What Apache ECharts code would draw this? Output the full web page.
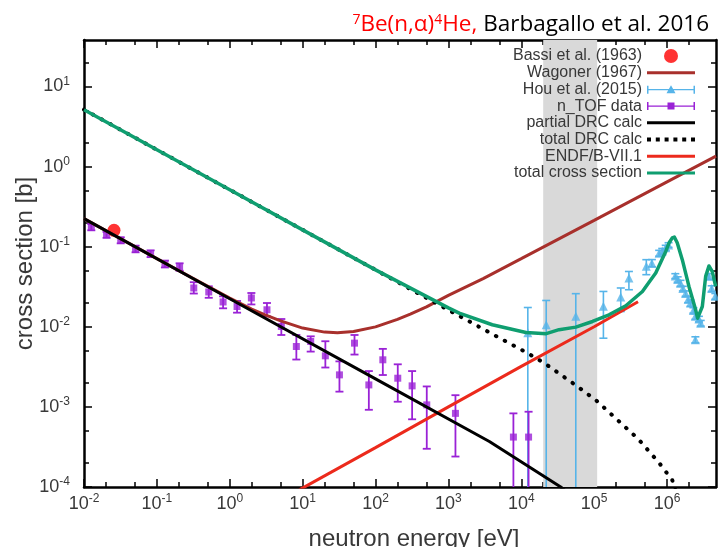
<!DOCTYPE html>
<html><head><meta charset="utf-8">
<script src="https://cdn.jsdelivr.net/npm/echarts@6/dist/echarts.min.js"></script>
<style>html,body{margin:0;padding:0;background:#fff}#c{width:718px;height:547px}</style>
</head><body><div id="c"></div>
<script>
// ---------- tick values ----------
const xMajorTicks = [1e-2, 1e-1, 1, 10, 100, 1e3, 1e4, 1e5, 1e6];
const xMinorTicks = [0.02, 0.05, 0.2, 0.5, 2, 5, 20, 50, 200, 500, 2e3, 5e3, 2e4, 5e4, 2e5, 5e5, 2e6];
const yMajorTicks = [1e-4, 1e-3, 1e-2, 1e-1, 1, 10];
const yMinorTicks = [2e-4, 5e-4, 2e-3, 5e-3, 2e-2, 5e-2, 0.2, 0.5, 2, 5, 20];
const xRange = [0.01, 4.7e6];
const yRange = [1e-4, 38];

// ---------- data ----------
const bandRange = [2e4, 1.1e5];

const bassiE = [0.0258];
const bassiS = [0.16];

const ntofE  = [0.0126, 0.0204, 0.0319, 0.051, 0.082, 0.129, 0.205, 0.321, 0.515, 0.81, 1.26, 1.98, 3.24, 5.1, 8.2, 12.9, 20.5, 32, 51.5, 81, 126, 202, 318, 505, 1250, 7800, 12600];
const ntofS  = [0.176, 0.141, 0.120, 0.0936, 0.0818, 0.0608, 0.0557, 0.0305, 0.0272, 0.0204, 0.0179, 0.0229, 0.0163, 0.0101, 0.00567, 0.00655, 0.00434, 0.00251, 0.00625, 0.00188, 0.00387, 0.00228, 0.00183, 0.00106, 0.00083, 0.00042, 0.00042];
const ntofLo = [0.160, 0.129, 0.110, 0.085, 0.074, 0.055, 0.050, 0.026, 0.023, 0.017, 0.015, 0.019, 0.0135, 0.0079, 0.0039, 0.0049, 0.0031, 0.00155, 0.0045, 0.00092, 0.0025, 0.00116, 0.0007, 0.0003, 0.00024, 0.00001, 0.00001];
const ntofHi = [0.192, 0.153, 0.131, 0.103, 0.090, 0.067, 0.062, 0.036, 0.032, 0.024, 0.021, 0.0264, 0.0198, 0.0125, 0.0079, 0.0076, 0.0066, 0.0037, 0.0079, 0.0028, 0.0053, 0.0034, 0.0028, 0.0018, 0.0014, 0.00083, 0.00087];

const houE  = [1.23e4, 2.2e4, 5.6e4, 1.34e5, 2.32e5, 3.0e5, 5.2e5, 6.2e5, 7.8e5, 8.6e5, 9.6e5, 1.05e6, 1.3e6, 1.4e6, 1.53e6, 1.65e6, 1.8e6, 1.95e6, 2.1e6, 2.3e6, 2.45e6, 2.45e6, 2.74e6, 2.9e6, 3.76e6, 4.1e6, 4.6e6];
const houS  = [0.0084, 0.0106, 0.0135, 0.018, 0.0235, 0.0406, 0.0568, 0.062, 0.083, 0.088, 0.097, 0.105, 0.043, 0.039, 0.035, 0.030, 0.026, 0.022, 0.0198, 0.016, 0.0135, 0.0069, 0.0125, 0.0111, 0.0426, 0.030, 0.024];
const houLo = [0.00001, 0.00001, 0.00001, 0.0072, 0.0155, 0.029, 0.0447, 0.056, 0.076, 0.081, 0.090, 0.098, 0.040, 0.036, 0.032, 0.028, 0.024, 0.020, 0.018, 0.0148, 0.0124, 0.0063, 0.0115, 0.0102, 0.039, 0.0276, 0.022];
const houHi = [0.0174, 0.0213, 0.0259, 0.0276, 0.0305, 0.049, 0.0688, 0.069, 0.090, 0.095, 0.104, 0.112, 0.046, 0.042, 0.038, 0.032, 0.028, 0.024, 0.0216, 0.0173, 0.0146, 0.0075, 0.0135, 0.012, 0.046, 0.0325, 0.026];

const wagonerE = [0.01, 0.1, 0.3, 1, 2, 3, 5, 10, 20, 30, 50, 100, 200, 300, 500, 1000, 3000, 1e4, 1e5, 1e6, 4.7e6];
const wagonerS = [0.224, 0.0709, 0.0410, 0.0228, 0.0166, 0.0142, 0.01186, 0.00964, 0.00858, 0.00844, 0.00872, 0.00998, 0.01237, 0.0144, 0.01775, 0.0247, 0.0400, 0.0708, 0.213, 0.644, 1.35];

const partialE = [0.01, 1, 100, 3650, 3.48e4, 5e4];
const partialS = [0.224, 0.0224, 0.00224, 0.00037, 0.0001, 0.000076];

const totalDrcE = [0.01, 1, 100, 1000, 3650, 1.22e4, 2.07e4, 5.9e4, 1.05e5, 2.08e5, 4.0e5, 7.8e5, 1.18e6, 1.5e6];
const totalDrcS = [5.13, 0.513, 0.0513, 0.0162, 0.0085, 0.00469, 0.00352, 0.0018, 0.00122, 0.00069, 0.00040, 0.0002, 0.000122, 0.00006];

const endfE = [9, 100, 1000, 1e4, 1e5, 4e5];
const endfS = [0.000092, 0.00031, 0.001, 0.0032, 0.01, 0.0205];

const totalE = [0.01, 0.1, 1, 10, 100, 1000, 1410, 4000, 1.16e4, 2.2e4, 3.3e4, 5.6e4, 9.5e4, 1.6e5, 2.72e5, 4.6e5, 5.6e5, 7.0e5, 9.6e5, 1.07e6, 1.18e6, 1.26e6, 1.38e6, 1.62e6, 2.0e6, 2.47e6, 2.63e6, 2.8e6, 3.05e6, 3.39e6, 3.76e6, 4.17e6, 4.65e6];
const totalS = [5.13, 1.62, 0.513, 0.162, 0.0513, 0.0172, 0.0148, 0.0106, 0.0085, 0.0082, 0.0092, 0.0099, 0.01164, 0.0141, 0.0183, 0.0276, 0.0355, 0.0469, 0.0873, 0.112, 0.129, 0.132, 0.112, 0.0688, 0.0319, 0.0163, 0.0128, 0.0132, 0.0179, 0.0426, 0.0575, 0.0491, 0.0319];

// ---------- helpers ----------
const zip = (a, b) => a.map((v, i) => [v, b[i]]);
const zip3 = (a, b, c) => a.map((v, i) => [v, b[i], c[i]]);
const FONT = 'Liberation Sans';
const TFONT = 'Open Sans';
const TXT = '#383838';

function powLabel(v) {
  const e = Math.round(Math.log10(v));
  return '{b|10}{s|' + e + '}';
}
const labelRich = {
  b: { fontSize: 18, fontFamily: FONT, color: TXT },
  s: { fontSize: 12, fontFamily: FONT, color: TXT, padding: [0, 0, 10, 0] }
};

function makeAxis(dim, pos, ticks, len, withLine, withLabel, extra) {
  const range = dim === 'x' ? xRange : yRange;
  const ax = {
    type: 'log', logBase: 10, min: range[0], max: range[1], position: pos,
    splitLine: { show: false },
    axisLine: { show: withLine, onZero: false, lineStyle: { color: '#000', width: 2.5 } },
    axisTick: { show: true, inside: true, length: len, customValues: ticks, lineStyle: { color: '#000', width: 1.5 } },
    axisLabel: withLabel ? {
      show: true, customValues: ticks, formatter: powLabel, rich: labelRich,
      margin: dim === 'x' ? 6 : 14
    } : { show: false },
    axisPointer: { show: false }
  };
  return Object.assign(ax, extra || {});
}

function errRender(capW, lw) {
  return function (params, api) {
    const x = api.value(0), lo = api.value(1), hi = api.value(2);
    const pLo = api.coord([x, lo]);
    const pHi = api.coord([x, hi]);
    const st = { stroke: api.visual('color'), lineWidth: lw };
    return {
      type: 'group', children: [
        { type: 'line', shape: { x1: pLo[0], y1: pLo[1], x2: pHi[0], y2: pHi[1] }, style: st },
        { type: 'line', shape: { x1: pLo[0] - capW, y1: pLo[1], x2: pLo[0] + capW, y2: pLo[1] }, style: st },
        { type: 'line', shape: { x1: pHi[0] - capW, y1: pHi[1], x2: pHi[0] + capW, y2: pHi[1] }, style: st }
      ]
    };
  };
}

const BLUE = '#56b4e9', PURPLE = '#9a22d6', GREEN = '#0f9e70', BROWN = '#a8302c', RED = '#ec2a1c';
const houIcon = 'path://M0,1h1.5v8h-1.5z M0,4.3h48v1.4h-48z M46.5,1h1.5v8h-1.5z M24,0.5L28.5,8.5h-9z';
const ntofIcon = 'path://M0,1h1.5v8h-1.5z M0,4.3h48v1.4h-48z M46.5,1h1.5v8h-1.5z M20.5,1.5h7v7h-7z';
const lineIcon = 'path://M0,0h48v3h-48z';
const dotIcon = 'path://M0,0h4v4h-4z M8.8,0h4v4h-4z M17.6,0h4v4h-4z M26.4,0h4v4h-4z M35.2,0h4v4h-4z M44,0h4v4h-4z';

const chart = echarts.init(document.getElementById('c'), null, { renderer: 'canvas' });
chart.setOption({
  animation: false,
  backgroundColor: '#fff',
  title: {
    right: 4, top: 8,
    text: '{rs|7}{r|Be(n,α)}{rs|4}{r|He, }{k|Barbagallo et al. 2016}',
    textStyle: {
      fontWeight: 'normal',
      rich: {
        r: { color: '#ff0000', fontSize: 22.5, fontFamily: TFONT, fontWeight: 'normal' },
        rs: { color: '#ff0000', fontSize: 14, fontFamily: TFONT, fontWeight: 'normal', padding: [0, 0, 10, 0] },
        k: { color: '#000', fontSize: 22.5, fontFamily: TFONT, fontWeight: 'normal' }
      }
    }
  },
  grid: { left: 84, right: 2, top: 40, bottom: 60, containLabel: false, outerBoundsMode: 'none' },
  legend: {
    orient: 'vertical', right: 18, top: 43, align: 'right',
    itemWidth: 48, itemHeight: 14, itemGap: 0.7, selectedMode: false,
    textStyle: { fontSize: 16, color: TXT, fontFamily: FONT },
    data: [
      { name: 'Bassi et al. (1963)', icon: 'circle' },
      { name: 'Wagoner (1967)', icon: lineIcon },
      { name: 'Hou et al. (2015)', icon: houIcon },
      { name: 'n_TOF data', icon: ntofIcon },
      { name: 'partial DRC calc', icon: lineIcon },
      { name: 'total DRC calc', icon: dotIcon },
      { name: 'ENDF/B-VII.1', icon: lineIcon },
      { name: 'total cross section', icon: lineIcon }
    ]
  },
  xAxis: [
    makeAxis('x', 'bottom', xMajorTicks, 8, true, true, {
      name: 'neutron energy [eV]', nameLocation: 'middle', nameGap: 40,
      nameTextStyle: { fontSize: 24, color: TXT, fontFamily: FONT, padding: [0, 0, 0, 28] }
    }),
    makeAxis('x', 'bottom', xMinorTicks, 5, false, false),
    makeAxis('x', 'top', xMajorTicks, 8, true, false),
    makeAxis('x', 'top', xMinorTicks, 5, false, false)
  ],
  yAxis: [
    makeAxis('y', 'left', yMajorTicks, 8, true, true, {
      name: 'cross section [b]', nameLocation: 'middle', nameGap: 47, nameMoveOverlap: false,
      nameTextStyle: { fontSize: 24, color: TXT, fontFamily: FONT }
    }),
    makeAxis('y', 'left', yMinorTicks, 5, false, false),
    makeAxis('y', 'right', yMajorTicks, 8, true, false),
    makeAxis('y', 'right', yMinorTicks, 5, false, false)
  ],
  series: [
    {
      name: 'band', type: 'line', symbol: 'none', silent: true,
      data: [[bandRange[0], yRange[0]], [bandRange[1], yRange[0]]],
      lineStyle: { opacity: 0 },
      markArea: {
        silent: true, itemStyle: { color: '#d9d9d9' },
        data: [[{ xAxis: bandRange[0], yAxis: yRange[0] }, { xAxis: bandRange[1], yAxis: yRange[1] }]]
      }
    },
    {
      name: 'Hou et al. (2015)', type: 'custom', renderItem: errRender(4, 1.6), clip: true,
      itemStyle: { color: BLUE }, encode: { x: 0, y: [1, 2] },
      data: zip3(houE, houLo, houHi)
    },
    {
      name: 'Hou et al. (2015)', type: 'scatter', symbol: 'triangle', symbolSize: 9,
      itemStyle: { color: BLUE }, data: zip(houE, houS)
    },
    {
      name: 'n_TOF data', type: 'custom', renderItem: errRender(4, 1.8), clip: true,
      itemStyle: { color: PURPLE }, encode: { x: 0, y: [1, 2] },
      data: zip3(ntofE, ntofLo, ntofHi)
    },
    {
      name: 'n_TOF data', type: 'scatter', symbol: 'rect', symbolSize: 7,
      itemStyle: { color: PURPLE }, data: zip(ntofE, ntofS)
    },
    {
      name: 'Bassi et al. (1963)', type: 'scatter', symbol: 'circle', symbolSize: 13,
      itemStyle: { color: '#ff0000' }, data: zip(bassiE, bassiS)
    },
    {
      name: 'Wagoner (1967)', type: 'line', symbol: 'none',
      lineStyle: { color: BROWN, width: 3 }, itemStyle: { color: BROWN },
      data: zip(wagonerE, wagonerS)
    },
    {
      name: 'ENDF/B-VII.1', type: 'line', symbol: 'none',
      lineStyle: { color: RED, width: 3 }, itemStyle: { color: RED },
      data: zip(endfE, endfS)
    },
    {
      name: 'total DRC calc', type: 'line', symbol: 'none',
      lineStyle: { color: '#000', width: 4, type: [0.5, 9.5], cap: 'round' }, itemStyle: { color: '#000' },
      data: zip(totalDrcE, totalDrcS)
    },
    {
      name: 'total cross section', type: 'line', symbol: 'none',
      lineStyle: { color: GREEN, width: 3.5, join: 'round' }, itemStyle: { color: GREEN },
      data: zip(totalE, totalS)
    },
    {
      name: 'partial DRC calc', type: 'line', symbol: 'none',
      lineStyle: { color: '#000', width: 3 }, itemStyle: { color: '#000' },
      data: zip(partialE, partialS)
    }
  ]
});
</script>
</body></html>
